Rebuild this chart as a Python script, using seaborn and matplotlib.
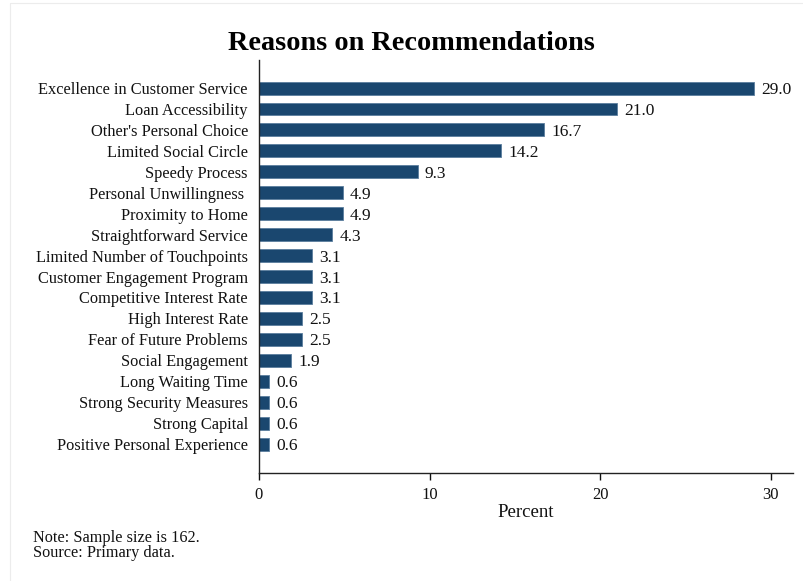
import matplotlib
matplotlib.use("Agg")
import matplotlib.pyplot as plt
import seaborn as sns
import pandas as pd
from matplotlib.lines import Line2D

reasons = [
    "Excellence in Customer Service", "Loan Accessibility", "Other's Personal Choice",
    "Limited Social Circle", "Speedy Process", "Personal Unwillingness ",
    "Proximity to Home", "Straightforward Service", "Limited Number of Touchpoints",
    "Customer Engagement Program", "Competitive Interest Rate", "High Interest Rate",
    "Fear of Future Problems", "Social Engagement", "Long Waiting Time",
    "Strong Security Measures", "Strong Capital", "Positive Personal Experience",
]
percent = [29.0, 21.0, 16.7, 14.2, 9.3, 4.9, 4.9, 4.3, 3.1, 3.1, 3.1, 2.5, 2.5, 1.9,
           0.6, 0.6, 0.6, 0.6]
xticks = [0, 10, 20, 30]

df = pd.DataFrame({"reason": reasons, "percent": percent})

sns.set_theme(style="white")
plt.rcParams["font.family"] = ["Liberation Serif", "DejaVu Serif"]

fig = plt.figure(figsize=(8.04, 5.81), dpi=100)
W, H = 804, 581
ax = fig.add_axes([259 / W, 1 - 473 / H, (793 - 259) / W, (473 - 60) / H])

sns.barplot(data=df, x="percent", y="reason", orient="h", color="#1a476f",
            width=0.62, edgecolor="#5a7d9e", linewidth=0.6, saturation=1, ax=ax)

for i, v in enumerate(percent):
    ax.text(v + 0.42, i, f"{v:.1f}", va="center_baseline", ha="left", fontsize=12.5,
            color="#111111")

ax.set_xlim(0, 31.3)
ax.set_ylim(17 + 1.38, -1.34)
ax.set_xticks(xticks)
ax.set_xticklabels([str(t) for t in xticks], fontsize=12)
ax.tick_params(axis="y", labelsize=11.8, length=0, pad=8, colors="#111111")
ax.tick_params(axis="x", length=5, width=1, direction="out", pad=5, colors="#111111",
               bottom=True)
ax.set_ylabel("")
ax.set_xlabel("Percent", fontsize=13.5, labelpad=1, color="#111111")
for s in ["top", "right"]:
    ax.spines[s].set_visible(False)
for s in ["left", "bottom"]:
    ax.spines[s].set_color("#222222")
    ax.spines[s].set_linewidth(1.0)

fig.text(411 / W, 1 - 44 / H, "Reasons on Recommendations", ha="center", va="center",
         fontsize=20.3, fontweight="bold", color="#000000")
fig.text(33 / W, 1 - 538 / H, "Note: Sample size is 162.", ha="left", va="center",
         fontsize=11.7, color="#111111")
fig.text(33 / W, 1 - 553 / H, "Source: Primary data.", ha="left", va="center",
         fontsize=11.7, color="#111111")

fig.lines.append(Line2D([10 / W, 10 / W, 804 / W], [0, 1 - 3 / H, 1 - 3 / H],
                        transform=fig.transFigure, color="#ececec", linewidth=0.8))

fig.savefig("out.png", dpi=100, facecolor="white")
